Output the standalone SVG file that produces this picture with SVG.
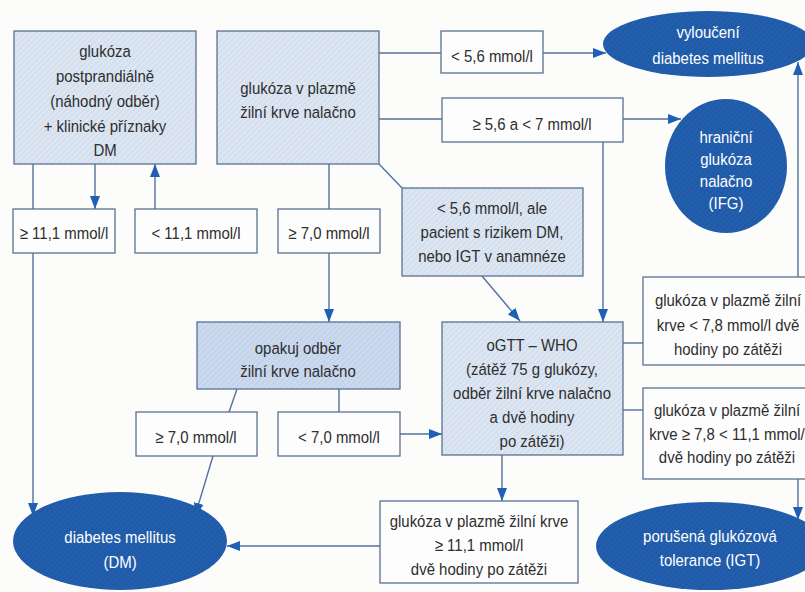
<svg xmlns="http://www.w3.org/2000/svg" width="805" height="592" viewBox="0 0 805 592">
<defs>
<pattern id="hatch" width="4" height="4" patternUnits="userSpaceOnUse" patternTransform="rotate(45)">
<rect width="4" height="4" fill="#dce6f2"/>
<line x1="0" y1="0" x2="0" y2="4" stroke="#c6d3e6" stroke-width="1.2"/>
</pattern>
<pattern id="hatch2" width="4" height="4" patternUnits="userSpaceOnUse" patternTransform="rotate(45)">
<rect width="4" height="4" fill="#cbd9ee"/>
<line x1="0" y1="0" x2="0" y2="4" stroke="#b4c7e3" stroke-width="1.2"/>
</pattern>
<pattern id="hatchE" width="4" height="4" patternUnits="userSpaceOnUse" patternTransform="rotate(45)">
<rect width="4" height="4" fill="#1f5ba9"/>
<line x1="0" y1="0" x2="0" y2="4" stroke="#2a66b4" stroke-width="1.2"/>
</pattern>
<marker id="arr" markerUnits="userSpaceOnUse" markerWidth="13" markerHeight="10" refX="13" refY="5" orient="auto">
<path d="M0,0 L13,5 L0,10 z" fill="#1f60b6"/>
</marker>
</defs>
<style>
.box{fill:url(#hatch);stroke:#5b7193;stroke-width:1.3}
.box2{fill:url(#hatch2);stroke:#5b7193;stroke-width:1.3}
.lbl{fill:#fdfdfd;stroke:#5b7193;stroke-width:1.3}
.ell{fill:url(#hatchE)}
.t{font-family:"Liberation Sans",Arial,sans-serif;font-size:17px;fill:#2e2e2e;text-anchor:middle}
.w{fill:#ffffff}
.c{stroke:#52729a;stroke-width:1.4;fill:none}
.a{marker-end:url(#arr)}
</style>
<rect width="805" height="592" fill="#fcfcfb"/>

<g id="connectors">
<path class="c" d="M33,164 V209"/>
<path class="c a" d="M33,253 V516"/>
<path class="c a" d="M95,164 V209"/>
<path class="c a" d="M155,209 V164"/>
<path class="c" d="M329,164 V209"/>
<path class="c a" d="M329,253 V322"/>
<path class="c" d="M379,53 H441"/>
<path class="c a" d="M543,53 H606"/>
<path class="c" d="M379,119 H442"/>
<path class="c a" d="M623,119 H681"/>
<path class="c a" d="M603,142 V322"/>
<path class="c" d="M379,164 L402,188"/>
<path class="c a" d="M482,276 L520,321"/>
<path class="c" d="M237,389 L229,412"/>
<path class="c" d="M339,389 V412"/>
<path class="c a" d="M213,456 L195,516"/>
<path class="c a" d="M400,434 H442"/>
<path class="c" d="M623,343 H643"/>
<path class="c" d="M623,410 H643"/>
<path class="c a" d="M798,277 V62"/>
<path class="c a" d="M798,479 V520"/>
<path class="c a" d="M502,455 V501"/>
<path class="c a" d="M380,546 H227"/>
</g>

<g id="n_postprandial">
<rect class="box" x="14" y="31" width="182" height="133"/>
<text class="t" transform="translate(105 57) scale(0.88 1)">glukóza</text>
<text class="t" transform="translate(105 82) scale(0.88 1)">postprandiálně</text>
<text class="t" transform="translate(105 107) scale(0.88 1)">(náhodný odběr)</text>
<text class="t" transform="translate(105 132) scale(0.88 1)">+ klinické příznaky</text>
<text class="t" transform="translate(105 156) scale(0.88 1)">DM</text>
</g>

<g id="n_nalacno">
<rect class="box" x="217" y="31" width="162" height="133"/>
<text class="t" transform="translate(298 94) scale(0.88 1)">glukóza v plazmě</text>
<text class="t" transform="translate(298 118) scale(0.88 1)">žilní krve nalačno</text>
</g>

<g id="n_ge111">
<rect class="lbl" x="13" y="209" width="102" height="44"/>
<text class="t" transform="translate(64 239) scale(0.88 1)">≥ 11,1 mmol/l</text>
</g>

<g id="n_lt111">
<rect class="lbl" x="135" y="209" width="122" height="44"/>
<text class="t" transform="translate(196 239) scale(0.88 1)">&lt; 11,1 mmol/l</text>
</g>

<g id="n_ge70a">
<rect class="lbl" x="278" y="209" width="102" height="44"/>
<text class="t" transform="translate(329 239) scale(0.88 1)">≥ 7,0 mmol/l</text>
</g>

<g id="n_lt56">
<rect class="lbl" x="441" y="31" width="102" height="42"/>
<text class="t" transform="translate(492 62) scale(0.88 1)">&lt; 5,6 mmol/l</text>
</g>

<g id="n_56_7">
<rect class="lbl" x="442" y="98" width="181" height="44"/>
<text class="t" transform="translate(532 130) scale(0.88 1)">≥ 5,6 a &lt; 7 mmol/l</text>
</g>

<g id="n_vylouceni">
<ellipse class="ell" cx="708" cy="44" rx="105" ry="33"/>
<text class="t w" transform="translate(708 38) scale(0.88 1)">vyloučení</text>
<text class="t w" transform="translate(708 64) scale(0.88 1)">diabetes mellitus</text>
</g>

<g id="n_ifg">
<ellipse class="ell" cx="726" cy="166" rx="61" ry="67"/>
<text class="t w" transform="translate(726 143) scale(0.88 1)">hraniční</text>
<text class="t w" transform="translate(726 165) scale(0.88 1)">glukóza</text>
<text class="t w" transform="translate(726 187) scale(0.88 1)">nalačno</text>
<text class="t w" transform="translate(726 209) scale(0.88 1)">(IFG)</text>
</g>

<g id="n_risk">
<rect class="box" x="402" y="188" width="181" height="88"/>
<text class="t" transform="translate(492 214) scale(0.88 1)">&lt; 5,6 mmol/l, ale</text>
<text class="t" transform="translate(492 238) scale(0.88 1)">pacient s rizikem DM,</text>
<text class="t" transform="translate(492 262) scale(0.88 1)">nebo IGT v anamnéze</text>
</g>

<g id="n_opakuj">
<rect class="box2" x="197" y="322" width="203" height="67"/>
<text class="t" transform="translate(298 354) scale(0.88 1)">opakuj odběr</text>
<text class="t" transform="translate(298 377) scale(0.88 1)">žilní krve nalačno</text>
</g>

<g id="n_ge70b">
<rect class="lbl" x="136" y="412" width="121" height="44"/>
<text class="t" transform="translate(196 443) scale(0.88 1)">≥ 7,0 mmol/l</text>
</g>

<g id="n_lt70">
<rect class="lbl" x="278" y="412" width="122" height="44"/>
<text class="t" transform="translate(339 443) scale(0.88 1)">&lt; 7,0 mmol/l</text>
</g>

<g id="n_ogtt">
<rect class="box" x="442" y="322" width="181" height="133"/>
<text class="t" transform="translate(532 351) scale(0.88 1)">oGTT – WHO</text>
<text class="t" transform="translate(532 375) scale(0.88 1)">(zátěž 75 g glukózy,</text>
<text class="t" transform="translate(532 399) scale(0.88 1)">odběr žilní krve nalačno</text>
<text class="t" transform="translate(532 423) scale(0.88 1)">a dvě hodiny</text>
<text class="t" transform="translate(532 447) scale(0.88 1)">po zátěži)</text>
</g>

<g id="n_lt78">
<rect class="lbl" x="643" y="277" width="172" height="88"/>
<text class="t" transform="translate(728 306) scale(0.88 1)">glukóza v plazmě žilní</text>
<text class="t" transform="translate(728 331) scale(0.88 1)">krve &lt; 7,8 mmol/l dvě</text>
<text class="t" transform="translate(728 355) scale(0.88 1)">hodiny po zátěži</text>
</g>

<g id="n_78_111">
<rect class="lbl" x="643" y="388" width="172" height="91"/>
<text class="t" transform="translate(727 416) scale(0.88 1)">glukóza v plazmě žilní</text>
<text class="t" transform="translate(727 440) scale(0.88 1)">krve ≥ 7,8 &lt; 11,1 mmol/</text>
<text class="t" transform="translate(727 463) scale(0.88 1)">dvě hodiny po zátěži</text>
</g>

<g id="n_ge111_2h">
<rect class="lbl" x="380" y="501" width="198" height="82"/>
<text class="t" transform="translate(479 527) scale(0.88 1)">glukóza v plazmě žilní krve</text>
<text class="t" transform="translate(479 551) scale(0.88 1)">≥ 11,1 mmol/l</text>
<text class="t" transform="translate(479 575) scale(0.88 1)">dvě hodiny po zátěži</text>
</g>

<g id="n_dm">
<ellipse class="ell" cx="120" cy="541" rx="107" ry="49"/>
<text class="t w" transform="translate(120 543) scale(0.88 1)">diabetes mellitus</text>
<text class="t w" transform="translate(120 568) scale(0.88 1)">(DM)</text>
</g>

<g id="n_igt">
<ellipse class="ell" cx="710" cy="546" rx="114" ry="44"/>
<text class="t w" transform="translate(710 542) scale(0.88 1)">porušená glukózová</text>
<text class="t w" transform="translate(710 566) scale(0.88 1)">tolerance (IGT)</text>
</g>
</svg>
